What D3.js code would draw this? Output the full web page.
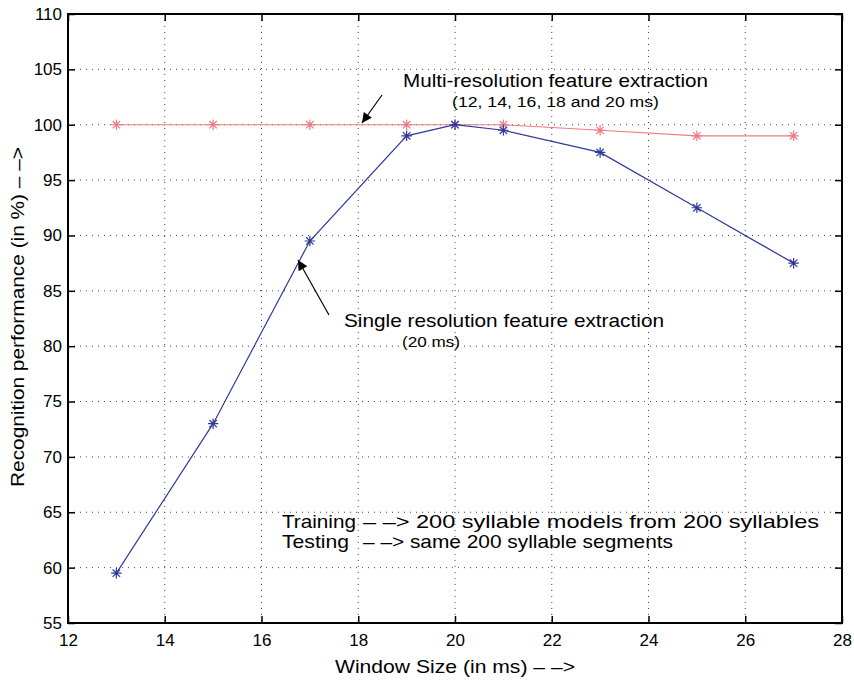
<!DOCTYPE html>
<html>
<head>
<meta charset="utf-8">
<script src="https://cdn.jsdelivr.net/npm/d3@7"></script>
<style>
  body { margin: 0; background: #fff; }
  svg { font-family: "Liberation Sans", Arial, Helvetica, sans-serif; }
</style>
</head>
<body>
<div id="chart"></div>
<script>
// window sizes (ms)
const windowSizes = [13, 15, 17, 19, 20, 21, 23, 25, 27];
// multi-resolution feature extraction
const multiRes = [100, 100, 100, 100, 100, 100, 99.5, 99, 99];
// single resolution feature extraction (20 ms)
const singleRes = [59.5, 73, 89.5, 99, 100, 99.5, 97.5, 92.5, 87.5];

const xTicks = [12, 14, 16, 18, 20, 22, 24, 26, 28];
const yTicks = [55, 60, 65, 70, 75, 80, 85, 90, 95, 100, 105, 110];

const W = 854, H = 681;
const margin = {top: 14, right: 12, bottom: 58, left: 68};
const width = W - margin.left - margin.right;
const height = H - margin.top - margin.bottom;

const svg = d3.select("#chart").append("svg")
  .attr("width", W).attr("height", H);

const defs = svg.append("defs");
defs.append("marker")
  .attr("id", "arrow")
  .attr("viewBox", "0 0 10 10")
  .attr("refX", 10).attr("refY", 5)
  .attr("markerWidth", 14).attr("markerHeight", 10)
  .attr("markerUnits", "userSpaceOnUse")
  .attr("orient", "auto")
  .append("path").attr("d", "M0,0 L10,5 L0,10 z").attr("fill", "#000");

const g = svg.append("g")
  .attr("transform", "translate(" + margin.left + "," + margin.top + ")");

const x = d3.scaleLinear().domain([12, 28]).range([0, width]);
const y = d3.scaleLinear().domain([55, 110]).range([height, 0]);

// grid
g.append("g").selectAll("line").data(xTicks.slice(1, -1)).enter().append("line")
  .attr("x1", d => x(d)).attr("x2", d => x(d))
  .attr("y1", 0).attr("y2", height)
  .attr("stroke", "#444").attr("stroke-width", 1)
  .attr("stroke-dasharray", "1,5");
g.append("g").selectAll("line").data(yTicks.slice(1, -1)).enter().append("line")
  .attr("y1", d => y(d)).attr("y2", d => y(d))
  .attr("x1", 0).attr("x2", width)
  .attr("stroke", "#444").attr("stroke-width", 1)
  .attr("stroke-dasharray", "1,5");

// axes with inward ticks
const tickLen = 7;
const xAxis = g.append("g").attr("transform", "translate(0," + height + ")")
  .call(d3.axisBottom(x).tickValues(xTicks).tickSizeInner(-tickLen).tickSizeOuter(0).tickPadding(11));
const xTop = g.append("g")
  .call(d3.axisTop(x).tickValues(xTicks).tickSizeInner(-tickLen).tickSizeOuter(0).tickFormat(""));
const yAxis = g.append("g")
  .call(d3.axisLeft(y).tickValues(yTicks).tickSizeInner(-tickLen).tickSizeOuter(0).tickPadding(6));
const yRight = g.append("g").attr("transform", "translate(" + width + ",0)")
  .call(d3.axisRight(y).tickValues(yTicks).tickSizeInner(-tickLen).tickSizeOuter(0).tickFormat(""));

[xAxis, xTop, yAxis, yRight].forEach(a => {
  a.select(".domain").remove();
  a.selectAll(".tick line").attr("stroke", "#000").attr("stroke-width", 1.5);
  a.selectAll("text").attr("font-size", 17).attr("fill", "#000")
    .attr("font-family", "Liberation Sans, Arial, sans-serif");
});

// frame
g.append("rect").attr("x", 0).attr("y", 0).attr("width", width).attr("height", height)
  .attr("fill", "none").attr("stroke", "#000").attr("stroke-width", 2);

// asterisk symbol (MATLAB '*' marker)
const symbolAsterisk = {
  draw(ctx, size) {
    const r = Math.sqrt(size) / 2;
    for (let k = 0; k < 4; k++) {
      const a = k * Math.PI / 4;
      const dx = r * Math.sin(a), dy = r * Math.cos(a);
      ctx.moveTo(-dx, -dy); ctx.lineTo(dx, dy);
    }
  }
};

// series
function drawSeries(vals, color) {
  const pts = windowSizes.map((d, i) => [d, vals[i]]);
  const line = d3.line().x(d => x(d[0])).y(d => y(d[1]));
  g.append("path").datum(pts).attr("d", line)
    .attr("fill", "none").attr("stroke", color).attr("stroke-width", 1.2);
  const star = d3.symbol().type(symbolAsterisk).size(110);
  g.append("g").selectAll("path").data(pts).enter().append("path")
    .attr("d", star)
    .attr("transform", d => "translate(" + x(d[0]) + "," + y(d[1]) + ")")
    .attr("fill", "none").attr("stroke", color).attr("stroke-width", 1.2);
}
drawSeries(multiRes, "#f07a80");
drawSeries(singleRes, "#2e3a9a");

// annotations
svg.append("line").attr("x1", 382).attr("y1", 95).attr("x2", 362).attr("y2", 123)
  .attr("stroke", "#000").attr("stroke-width", 1.2).attr("marker-end", "url(#arrow)");
svg.append("line").attr("x1", 329).attr("y1", 315).attr("x2", 298).attr("y2", 260)
  .attr("stroke", "#000").attr("stroke-width", 1.2).attr("marker-end", "url(#arrow)");

function label(xp, yp, size, len, txt) {
  return svg.append("text").attr("x", xp).attr("y", yp).attr("font-size", size)
    .attr("textLength", len).attr("lengthAdjust", "spacingAndGlyphs").text(txt);
}
label(403, 87, 19, 305, "Multi-resolution feature extraction");
label(452, 107, 15.5, 207, "(12, 14, 16, 18 and 20 ms)");
label(344, 327, 19, 320, "Single resolution feature extraction");
label(402, 347, 15.5, 58, "(20 ms)");

label(282, 528, 19, 74, "Training");
label(363, 528, 19, 456, "– –> 200 syllable models from 200 syllables");
label(282, 548, 19, 67, "Testing");
label(363, 548, 19, 310, "– –> same 200 syllable segments");

// axis labels
label(335, 673, 19, 240, "Window Size (in ms) – –>");
svg.append("text")
  .attr("transform", "translate(24,487) rotate(-90)")
  .attr("font-size", 19).attr("textLength", 340).attr("lengthAdjust", "spacingAndGlyphs")
  .text("Recognition performance (in %) – –>");
</script>
</body>
</html>
